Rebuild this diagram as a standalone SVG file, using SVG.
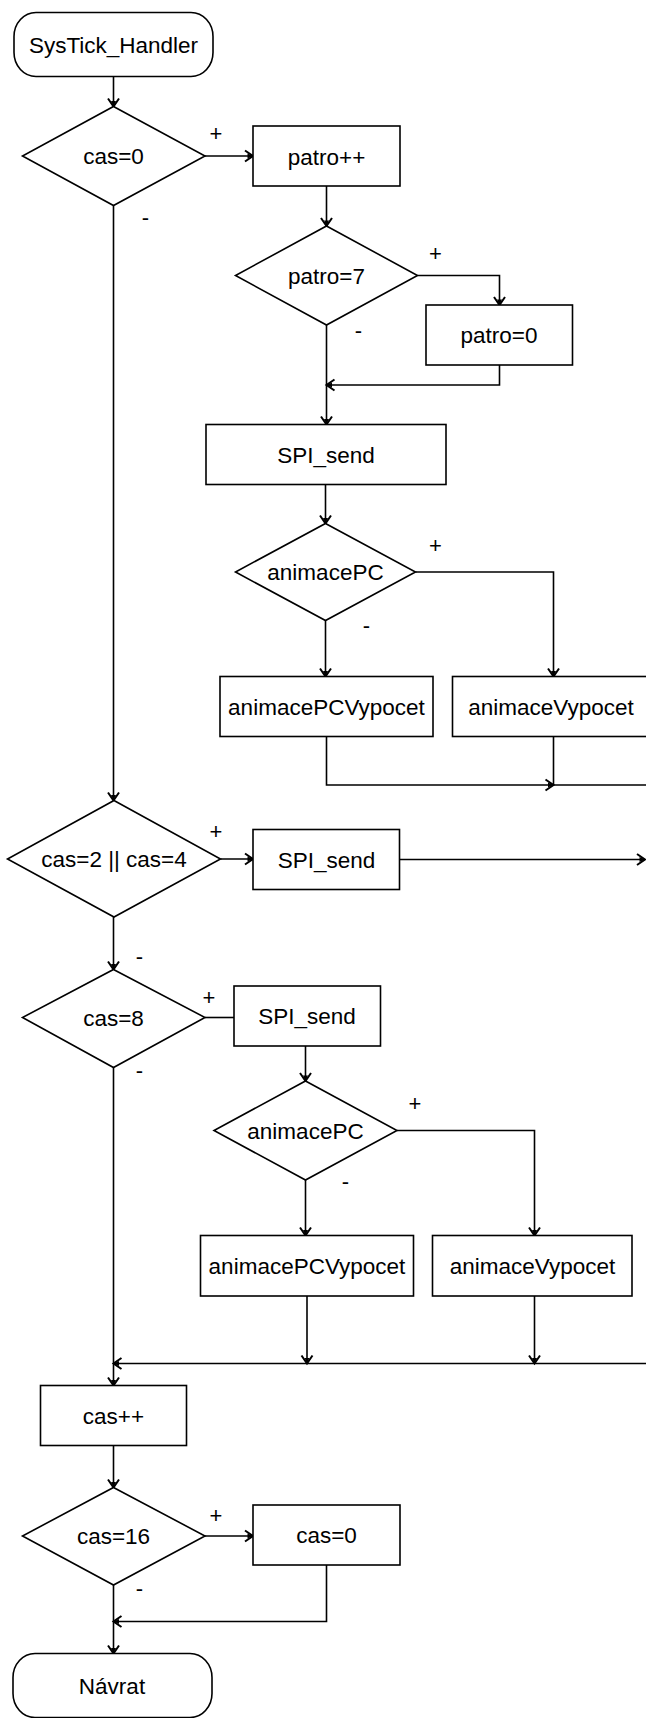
<svg xmlns="http://www.w3.org/2000/svg" width="646" height="1718" viewBox="0 0 646 1718">
<defs>
<style>
.n{fill:#fff;stroke:#000;stroke-width:1.6}
.t{font-family:"Liberation Sans",Arial,sans-serif;font-size:22.5px;fill:#000;text-anchor:middle}
.l{font-family:"Liberation Sans",Arial,sans-serif;font-size:22px;fill:#000;text-anchor:middle}
.c{fill:none;stroke:#000;stroke-width:1.6}
.a{marker-end:url(#arr)}
</style>
<marker id="arr" markerUnits="userSpaceOnUse" markerWidth="20" markerHeight="20" refX="10" refY="10" orient="auto" overflow="visible">
<path d="M2,4.5 L10,10 L2,15.5" fill="none" stroke="#000" stroke-width="2"/>
<path d="M4.5,7.5 L10,10 L4.5,12.5 Z" fill="#000"/>
</marker>
</defs>
<rect width="646" height="1718" fill="#fff"/>
<g id="connectors">
<line class="c a" x1="113.5" y1="76.5" x2="113.5" y2="106.5"/>
<line class="c a" x1="205" y1="156" x2="253" y2="156"/>
<line class="c a" x1="326.5" y1="186" x2="326.5" y2="226"/>
<polyline class="c a" points="417.5,275.5 499.5,275.5 499.5,305"/>
<polyline class="c a" points="499.5,365 499.5,385 326.5,385"/>
<line class="c a" x1="326.5" y1="325" x2="326.5" y2="424.5"/>
<line class="c a" x1="325.5" y1="484.5" x2="325.5" y2="523.5"/>
<polyline class="c a" points="415.5,572 553.5,572 553.5,676.5"/>
<line class="c a" x1="325.5" y1="620.5" x2="325.5" y2="676.5"/>
<polyline class="c a" points="326.5,736.5 326.5,785 553.5,785"/>
<polyline class="c" points="553.5,736.5 553.5,785 646,785"/>
<line class="c a" x1="113.5" y1="205.5" x2="113.5" y2="800.5"/>
<line class="c a" x1="220.5" y1="859" x2="253" y2="859"/>
<line class="c a" x1="399.5" y1="859.5" x2="645" y2="859.5"/>
<line class="c a" x1="113.5" y1="917" x2="113.5" y2="969.5"/>
<line class="c" x1="205" y1="1017.5" x2="234" y2="1017.5"/>
<line class="c a" x1="305.5" y1="1046" x2="305.5" y2="1081"/>
<polyline class="c a" points="397,1130.5 534.5,1130.5 534.5,1235.5"/>
<line class="c a" x1="305.5" y1="1180" x2="305.5" y2="1235.5"/>
<line class="c a" x1="307" y1="1296" x2="307" y2="1363.5"/>
<line class="c a" x1="534.5" y1="1296" x2="534.5" y2="1363.5"/>
<line class="c a" x1="646" y1="1363.5" x2="113.5" y2="1363.5"/>
<line class="c a" x1="113.5" y1="1067.5" x2="113.5" y2="1385.5"/>
<line class="c a" x1="113.5" y1="1445.5" x2="113.5" y2="1487.5"/>
<line class="c a" x1="205" y1="1536" x2="253" y2="1536"/>
<polyline class="c a" points="326.5,1565 326.5,1621.5 113.5,1621.5"/>
<line class="c a" x1="113.5" y1="1585" x2="113.5" y2="1653.5"/>
</g>
<g id="labels">
<text class="l" x="216" y="141">+</text>
<text class="l" x="145.5" y="225">-</text>
<text class="l" x="435.5" y="261">+</text>
<text class="l" x="358.5" y="337.5">-</text>
<text class="l" x="435.5" y="553">+</text>
<text class="l" x="366.5" y="632.5">-</text>
<text class="l" x="216" y="839">+</text>
<text class="l" x="139.5" y="964">-</text>
<text class="l" x="209" y="1005">+</text>
<text class="l" x="139.5" y="1077.5">-</text>
<text class="l" x="415" y="1111">+</text>
<text class="l" x="345.5" y="1189">-</text>
<text class="l" x="216" y="1523">+</text>
<text class="l" x="139.5" y="1596">-</text>
</g>
<g id="start"><rect class="n" x="14" y="12.5" width="199" height="64" rx="22" ry="24"/><text class="t" x="113.5" y="52.5">SysTick_Handler</text></g>
<g id="d_cas0"><polygon class="n" points="113.5,106.5 205,156 113.5,205.5 22.5,156"/><text class="t" x="113.5" y="164">cas=0</text></g>
<g id="p_patroinc"><rect class="n" x="253" y="126" width="147" height="60"/><text class="t" x="326.5" y="164.5">patro++</text></g>
<g id="d_patro7"><polygon class="n" points="326.5,226 417.5,275.5 326.5,325 235.5,275.5"/><text class="t" x="326.5" y="283.5">patro=7</text></g>
<g id="p_patro0"><rect class="n" x="426" y="305" width="146.5" height="60"/><text class="t" x="499" y="343">patro=0</text></g>
<g id="p_spi1"><rect class="n" x="206" y="424.5" width="240" height="60"/><text class="t" x="326" y="462.5">SPI_send</text></g>
<g id="d_anim1"><polygon class="n" points="325.5,523.5 415.5,572 325.5,620.5 235.5,572"/><text class="t" x="325.5" y="580">animacePC</text></g>
<g id="p_animpc1"><rect class="n" x="220" y="676.5" width="213" height="60"/><text class="t" x="326.5" y="714.5">animacePCVypocet</text></g>
<g id="p_anim1"><rect class="n" x="452.5" y="676.5" width="200" height="60"/><text class="t" x="551" y="714.5">animaceVypocet</text></g>
<g id="d_cas24"><polygon class="n" points="114,800.5 220.5,859 114,917 7.5,859"/><text class="t" x="114" y="867">cas=2 || cas=4</text></g>
<g id="p_spi2"><rect class="n" x="253" y="829.5" width="146.5" height="60"/><text class="t" x="326.5" y="867.5">SPI_send</text></g>
<g id="d_cas8"><polygon class="n" points="113.5,969.5 205,1017.5 113.5,1067.5 22.5,1017.5"/><text class="t" x="113.5" y="1025.5">cas=8</text></g>
<g id="p_spi3"><rect class="n" x="234" y="986" width="146.5" height="60"/><text class="t" x="307" y="1024">SPI_send</text></g>
<g id="d_anim2"><polygon class="n" points="305.5,1081 397,1130.5 305.5,1180 214,1130.5"/><text class="t" x="305.5" y="1138.5">animacePC</text></g>
<g id="p_animpc2"><rect class="n" x="200.5" y="1235.5" width="213" height="60.5"/><text class="t" x="307" y="1274">animacePCVypocet</text></g>
<g id="p_anim2"><rect class="n" x="432.5" y="1235.5" width="199.5" height="60.5"/><text class="t" x="532.5" y="1274">animaceVypocet</text></g>
<g id="p_casinc"><rect class="n" x="40.5" y="1385.5" width="146" height="60"/><text class="t" x="113.5" y="1423.5">cas++</text></g>
<g id="d_cas16"><polygon class="n" points="113.5,1487.5 205,1536 113.5,1585 22.5,1536"/><text class="t" x="113.5" y="1544">cas=16</text></g>
<g id="p_cas0"><rect class="n" x="253" y="1505" width="147" height="60"/><text class="t" x="326.5" y="1543">cas=0</text></g>
<g id="end"><rect class="n" x="13" y="1653.5" width="199" height="64" rx="22" ry="24"/><text class="t" x="112" y="1694">Návrat</text></g>
</svg>
